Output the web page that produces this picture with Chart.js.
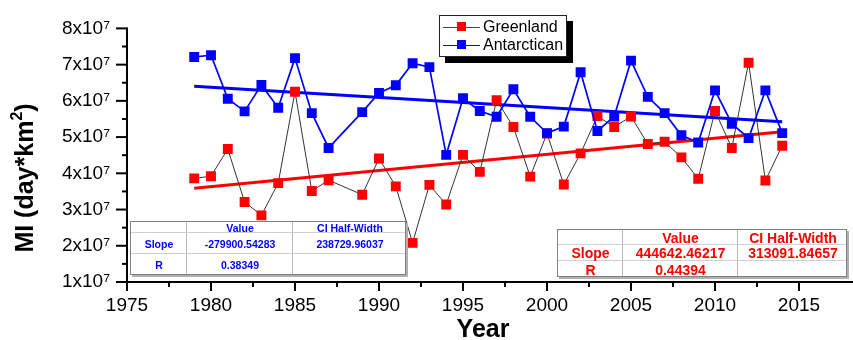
<!DOCTYPE html>
<html>
<head>
<meta charset="utf-8">
<script src="https://cdn.jsdelivr.net/npm/chart.js@4.4.1/dist/chart.umd.min.js"></script>
<style>
  body { margin: 0; background: #fff; }
  #wrap { position: relative; width: 853px; height: 340px; overflow: hidden; }
  #chart { position: absolute; left: 0; top: 0; }
  .tbl { position: absolute; background: #fff; border: 1px solid #808080; box-sizing: border-box; box-shadow: 2px 2px 0 #b0b0b0; }
  .cell { position: absolute; display: flex; align-items: center; justify-content: center;
          font-family: "Liberation Sans", Arial, sans-serif; font-weight: bold; white-space: nowrap; }
  .vl { position: absolute; width: 1px; background: #b8b8b8; }
  .hl { position: absolute; height: 1px; background: #d0d0d0; }
  #legend { position: absolute; left: 439px; top: 15px; width: 128px; height: 42px; background: #fff;
            border: 1px solid #222; box-sizing: border-box; box-shadow: 6px 6px 0 #000;
            font-family: "Liberation Sans", Arial, sans-serif; font-size: 16px; }
  .item { position: absolute; left: 0; height: 18px; width: 126px; }
  .item .ln { position: absolute; left: 3px; width: 37px; top: 9px; height: 1px; }
  .item .mk { position: absolute; left: 17px; top: 4px; width: 9px; height: 9px; }
  .item .tx { position: absolute; left: 43px; top: 0; line-height: 18px; }
</style>
</head>
<body>
<div id="wrap">
  <canvas id="chart" width="853" height="340"></canvas>
  <div id="legend">
    <div class="item" style="top:2px"><div class="ln" style="background:#444"></div><div class="mk" style="background:#ff0000"></div><div class="tx">Greenland</div></div>
    <div class="item" style="top:20px"><div class="ln" style="background:#0000ff"></div><div class="mk" style="background:#0000ff"></div><div class="tx">Antarctican</div></div>
  </div>
</div>
<script>
// Años (1988 no tiene dato)
const years = [1979, 1980, 1981, 1982, 1983, 1984, 1985, 1986, 1987,
  1989, 1990, 1991, 1992, 1993, 1994, 1995, 1996, 1997, 1998, 1999, 2000,
  2001, 2002, 2003, 2004, 2005, 2006, 2007, 2008, 2009, 2010, 2011, 2012, 2013, 2014];

// Valores en unidades de 1e7 day*km^2
const greenland = [3.86, 3.92, 4.67, 3.21, 2.84, 3.73, 6.25, 3.51, 3.81,
  3.41, 4.41, 3.64, 2.08, 3.68, 3.14, 4.51, 4.04, 6.02, 5.28, 3.91, 5.10,
  3.69, 4.55, 5.58, 5.28, 5.57, 4.81, 4.87, 4.44, 3.85, 5.72, 4.70, 7.05, 3.80, 4.76];
const antarctican = [7.21, 7.26, 6.06, 5.71, 6.44, 5.81, 7.18, 5.66, 4.70,
  5.69, 6.22, 6.43, 7.04, 6.93, 4.51, 6.07, 5.72, 5.56, 6.32, 5.56, 5.11,
  5.29, 6.79, 5.17, 5.57, 7.11, 6.11, 5.66, 5.05, 4.85, 6.29, 5.37, 4.97, 6.29, 5.11];

// Rectas de ajuste (extremos)
const trendYears = [1979, 2014];
const greenlandTrend = [3.59, 5.15];
const antarcticanTrend = [6.40, 5.42];

// Tablas de ajuste
const blueTable = [["", "Value", "CI Half-Width"], ["Slope", "-279900.54283", "238729.96037"], ["R", "0.38349", ""]];
const redTable = [["", "Value", "CI Half-Width"], ["Slope", "444642.46217", "313091.84657"], ["R", "0.44394", ""]];

const scale = 1e7;
const toPoints = (xs, ys) => xs.map((x, i) => ({ x: x, y: ys[i] * scale }));
const font = '"Liberation Sans", Arial, sans-serif';

// Ejes, marcas y títulos dibujados a mano
const axesPlugin = {
  id: 'axes',
  afterDraw(chart) {
    const { ctx, chartArea: a, scales: { x, y } } = chart;
    ctx.save();
    ctx.strokeStyle = '#000';
    ctx.lineWidth = 2;
    ctx.beginPath();
    ctx.moveTo(a.left, y.getPixelForValue(8e7) - 1);
    ctx.lineTo(a.left, a.bottom);
    ctx.lineTo(853, a.bottom);
    ctx.stroke();
    x.ticks.forEach(t => {
      if (t.value > 2015) return;
      const px = x.getPixelForValue(t.value);
      const len = t.value % 5 === 0 ? 9 : 5;
      ctx.beginPath(); ctx.moveTo(px, a.bottom); ctx.lineTo(px, a.bottom + len); ctx.stroke();
    });
    y.ticks.forEach(t => {
      const py = y.getPixelForValue(t.value);
      const len = t.value % scale === 0 ? 11 : 5;
      ctx.beginPath(); ctx.moveTo(a.left, py); ctx.lineTo(a.left - len, py); ctx.stroke();
    });
    ctx.fillStyle = '#000';
    ctx.font = 'bold 25px ' + font;
    ctx.textAlign = 'center';
    ctx.textBaseline = 'alphabetic';
    ctx.fillText('Year', 483, 337);

    // Título vertical con superíndice
    ctx.translate(33, 178);
    ctx.rotate(-Math.PI / 2);
    ctx.textAlign = 'left';
    const p1 = 'MI (day*km', p2 = '2', p3 = ')';
    ctx.font = 'bold 25px ' + font;
    const w1 = ctx.measureText(p1).width, w3 = ctx.measureText(p3).width;
    ctx.font = 'bold 16px ' + font;
    const w2 = ctx.measureText(p2).width;
    let px = -(w1 + w2 + w3) / 2;
    ctx.font = 'bold 25px ' + font;
    ctx.fillText(p1, px, 0);
    px += w1;
    ctx.font = 'bold 16px ' + font;
    ctx.fillText(p2, px, -11);
    px += w2;
    ctx.font = 'bold 25px ' + font;
    ctx.fillText(p3, px, 0);
    ctx.restore();
  }
};

const ctx = document.getElementById('chart').getContext('2d');
new Chart(ctx, {
  type: 'scatter',
  data: {
    datasets: [
      { label: 'Antarctican', data: toPoints(years, antarctican), showLine: true,
        borderColor: '#0000ff', borderWidth: 1.7, pointStyle: 'rect', pointRadius: 7,
        pointBackgroundColor: '#0000ff', pointBorderWidth: 0, order: 0 },
      { label: 'Greenland', data: toPoints(years, greenland), showLine: true,
        borderColor: '#333', borderWidth: 1, pointStyle: 'rect', pointRadius: 7,
        pointBackgroundColor: '#ff0000', pointBorderWidth: 0, order: 1 },
      { label: 'fitA', data: toPoints(trendYears, antarcticanTrend), showLine: true,
        borderColor: '#0000ff', borderWidth: 3, pointRadius: 0, order: 2 },
      { label: 'fitG', data: toPoints(trendYears, greenlandTrend), showLine: true,
        borderColor: '#ff0000', borderWidth: 3, pointRadius: 0, order: 3 }
    ]
  },
  options: {
    responsive: false,
    animation: false,
    layout: { padding: { top: 27, right: 4, left: 0, bottom: 0 } },
    plugins: { legend: { display: false }, tooltip: { enabled: false } },
    scales: {
      x: {
        type: 'linear', min: 1975, max: 2017.5,
        grid: { display: false, drawTicks: false }, border: { display: false },
        ticks: { stepSize: 2.5, autoSkip: false, maxRotation: 0, padding: 12, color: '#000',
                 font: { family: font, size: 19 },
                 callback: v => (v % 5 === 0 && v <= 2015) ? String(v) : '' },
        afterFit: s => { s.height = 58; }
      },
      y: {
        min: 1e7, max: 8e7,
        grid: { display: false, drawTicks: false }, border: { display: false },
        ticks: { stepSize: 0.5e7, autoSkip: false, padding: 17, color: '#000',
                 font: { family: font, size: 19 },
                 callback: v => v % scale === 0 ? (v / scale) + 'x10⁷' : '' },
        afterFit: s => { s.width = 127; }
      }
    }
  },
  plugins: [axesPlugin]
});

// Tablas de resultados del ajuste lineal
function makeTable(rows, xs, ys, color, size) {
  const wrap = document.getElementById('wrap');
  const box = document.createElement('div');
  box.className = 'tbl';
  box.style.left = xs[0] + 'px';
  box.style.top = ys[0] + 'px';
  box.style.width = (xs[xs.length - 1] - xs[0]) + 'px';
  box.style.height = (ys[ys.length - 1] - ys[0]) + 'px';
  wrap.appendChild(box);
  for (let c = 1; c < xs.length - 1; c++) {
    const v = document.createElement('div');
    v.className = 'vl';
    v.style.left = (xs[c] - xs[0] - 1) + 'px';
    v.style.top = '0px';
    v.style.height = '100%';
    box.appendChild(v);
  }
  for (let r = 1; r < ys.length - 1; r++) {
    const h = document.createElement('div');
    h.className = 'hl';
    h.style.top = (ys[r] - ys[0] - 1) + 'px';
    h.style.left = '0px';
    h.style.width = '100%';
    box.appendChild(h);
  }
  rows.forEach((row, r) => {
    row.forEach((txt, c) => {
      const d = document.createElement('div');
      d.className = 'cell';
      d.style.left = (xs[c] - xs[0]) + 'px';
      d.style.top = (ys[r] - ys[0]) + 'px';
      d.style.width = (xs[c + 1] - xs[c]) + 'px';
      d.style.height = (ys[r + 1] - ys[r]) + 'px';
      d.style.color = color;
      d.style.fontSize = size + 'px';
      d.textContent = txt;
      box.appendChild(d);
    });
  });
}

makeTable(blueTable, [130, 186, 292, 406], [221, 232, 253, 275], '#0000ff', 10.5);
makeTable(redTable, [557, 622, 737, 847], [229, 244, 260, 277], '#ff0000', 14);
</script>
</body>
</html>
